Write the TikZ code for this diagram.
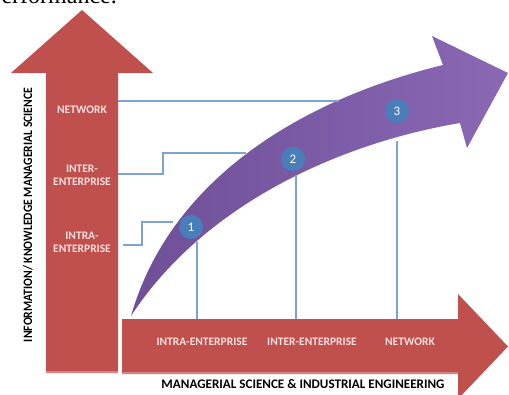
\documentclass[tikz,border=0pt]{standalone}
\usepackage{fontspec}
\usepackage{graphicx}
\setmainfont{Carlito}
\newfontfamily\paperfont{Liberation Serif}
\definecolor{arrowred}{HTML}{C0504D}
\definecolor{pinktext}{HTML}{F6E0DF}
\definecolor{linkblue}{HTML}{7EA3D0}
\definecolor{dotblue}{HTML}{4A7EBB}
\definecolor{purpleA}{HTML}{6F4F98}
\definecolor{purpleB}{HTML}{8A68B4}
\tikzset{
  arrowtext/.style={text=pinktext, font=\bfseries\fontsize{11.5}{13}\selectfont, align=center, inner sep=0pt},
  link/.style={draw=linkblue, line width=1.1pt},
  dot/.style={circle, fill=dotblue, text=white, minimum size=24pt, inner sep=0pt, font=\fontsize{13}{13}\selectfont},
  axislabel/.style={text=black, inner sep=0pt, font=\bfseries\fontsize{11}{11}\selectfont}
}
\begin{document}
\begin{tikzpicture}[x=1pt,y=-1pt]
\useasboundingbox (0,0) rectangle (509,394);
\clip (0,0) rectangle (509,394);
\fill[white] (0,0) rectangle (509,394);
% cropped text of the page above
\node[anchor=base east, inner sep=0pt, font=\paperfont\fontsize{24}{24}\selectfont] (paper) at (117,3) {Performance.};
% vertical arrow
\fill[arrowred] (46,373) -- (46,73) -- (11,73) -- (82,10) -- (153,73) -- (118,73) -- (118,373) -- cycle;
\fill[arrowred!70!white] (46,371) rectangle (118,373);
% horizontal arrow
\fill[arrowred] (122,319) -- (458,319) -- (458,294) -- (508,346.5) -- (458,399) -- (458,374) -- (122,374) -- cycle;
\fill[arrowred!70!white] (122,372) rectangle (458,374);
% purple curved arrow
\shade[left color=purpleA, right color=purpleB]
  (131,316) .. controls (170,180) and (300,100) .. (443,65)
  -- (432,36) -- (508,73) -- (467,148) -- (460,123)
  .. controls (330,145) and (200,210) .. (131,316) -- cycle;
% texts in vertical arrow
\node[arrowtext] (vnet) at (82,110) {NETWORK};
\node[arrowtext] (vinter) at (82,175) {INTER-\\ENTERPRISE};
\node[arrowtext] (vintra) at (82,242) {INTRA-\\ENTERPRISE};
% texts in horizontal arrow
\node[arrowtext] (hintra) at (202,342) {INTRA-ENTERPRISE};
\node[arrowtext] (hinter) at (312,342) {INTER-ENTERPRISE};
\node[arrowtext] (hnet) at (410,342) {NETWORK};
% axis labels
\node[axislabel] (xlabel) at (303,384) {\resizebox{283pt}{!}{MANAGERIAL SCIENCE \& INDUSTRIAL ENGINEERING}};
\node[axislabel, rotate=90] (ylabel) at (28,215) {\resizebox{254pt}{9pt}{INFORMATION/ KNOWLEDGE MANAGERIAL SCIENCE}};
% numbered dots
\node[dot] (c1) at (191,227) {1};
\node[dot] (c2) at (293,159) {2};
\node[dot] (c3) at (397,111) {3};
% link lines
\coordinate (netL) at (118,101);
\coordinate (netR) at (339,101);
\draw[link] (netL) -- (netR);
\coordinate (interL) at (118,174);
\coordinate (interE) at (246,153);
\draw[link] (interL) -| (163,153) -- (interE);
\coordinate (intraL) at (123,245);
\coordinate (intraE) at (173,222);
\draw[link] (intraL) -| (142,222) -- (intraE);
\coordinate (d1) at (197,242);
\coordinate (d2) at (296,175);
\coordinate (d3) at (397,141);
\coordinate (b1) at (197,319);
\coordinate (b2) at (296,319);
\coordinate (b3) at (397,319);
\draw[link] (d1) -- (b1);
\draw[link] (d2) -- (b2);
\draw[link] (d3) -- (b3);
\end{tikzpicture}
\end{document}
